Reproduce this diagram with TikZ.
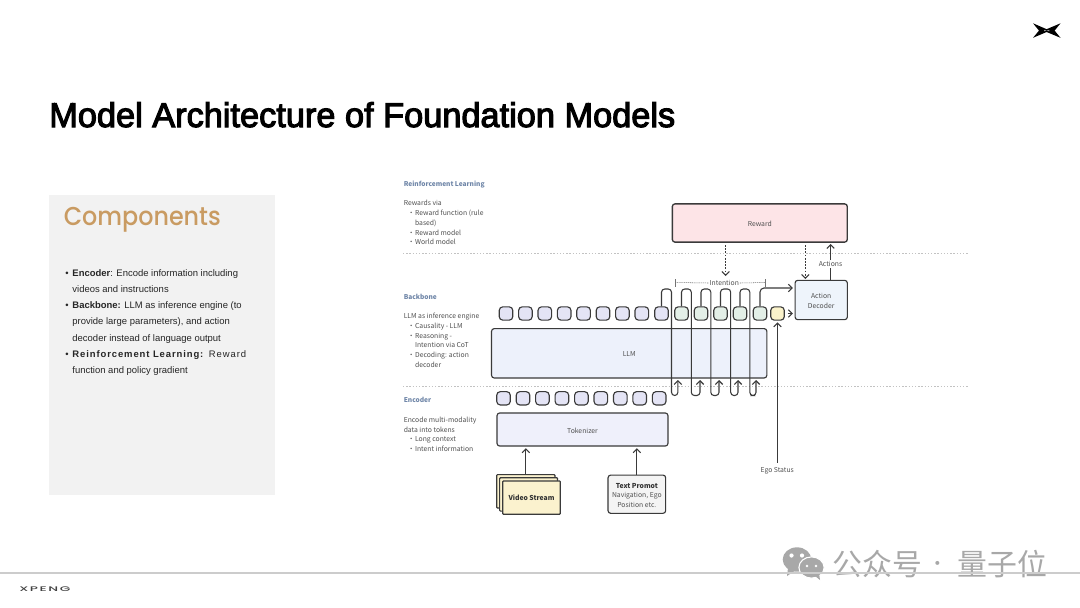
\documentclass[tikz,border=0pt]{standalone}
\usepackage{fontspec}
\usepackage{graphicx}
\usetikzlibrary{arrows.meta,calc}
\setmainfont{Liberation Sans}
\newfontfamily\titlefont{Poppins}[UprightFont=* Medium,BoldFont=* SemiBold]
\newfontfamily\headfont{Liberation Sans}[FakeBold=3.2]
\newfontfamily\dgm{Noto Sans CJK SC}
\newcommand{\bl}{\makebox[8.5pt][l]{\hspace{3pt}•}}
\newcommand{\ind}{\hspace*{8.5pt}}
\newcommand{\lb}{\makebox[5.4pt][l]{•}}
\newcommand{\lind}{\hspace*{5.4pt}}
\newcommand{\dnr}{\rule{0pt}{5.5pt}}
\definecolor{ln}{HTML}{3A3A3A}
\definecolor{txt}{HTML}{505050}
\definecolor{hd}{HTML}{6F86A8}
\definecolor{compc}{HTML}{C99B62}
\tikzset{
  boxn/.style={draw=ln,line width=.85pt,rounded corners=2pt,inner sep=0pt,align=center,text=txt,font=\dgm\fontsize{5.1}{7.3}\selectfont},
  tokp/.style={boxn,rounded corners=2.7pt,fill=tokpc,minimum width=10.2pt,minimum height=10pt},
  tokg/.style={boxn,rounded corners=2.7pt,fill=tokgc,minimum width=10.2pt,minimum height=10pt},
  toky/.style={boxn,rounded corners=2.7pt,fill=tokyc,minimum width=10.2pt,minimum height=10pt},
  conn/.style={draw=ln,line width=.8pt,-{Straight Barb[length=2.8pt,width=5.6pt,line width=.8pt]}},
  plainc/.style={draw=ln,line width=.8pt},
  dotc/.style={conn,dash pattern=on 1.3pt off 1.1pt},
  sep/.style={draw=black!24,line width=.5pt,dash pattern=on 1.1pt off 1.3pt},
  note/.style={anchor=north west,inner sep=0pt,align=left,text=txt,font=\dgm\fontsize{5.1}{7.3}\selectfont},
  head/.style={anchor=west,inner sep=0pt,text=hd,font=\dgm\bfseries\fontsize{4.95}{7.3}\selectfont},
  lab/.style={inner sep=0pt,text=txt,font=\dgm\fontsize{5.1}{7.3}\selectfont},
  body/.style={anchor=north west,inner sep=0pt,align=left,text=black!85,font=\fontsize{7.1}{12.17}\selectfont},
}
\definecolor{tokpc}{HTML}{E4E4F5}
\definecolor{tokgc}{HTML}{E3EFE7}
\definecolor{tokyc}{HTML}{FBF3CB}
\definecolor{rew}{HTML}{FDE4E7}
\definecolor{adc}{HTML}{EEF4FB}
\definecolor{llmc}{HTML}{EDF1FB}
\definecolor{tokc}{HTML}{EFF0FB}
\definecolor{vid}{HTML}{FBF2CE}
\definecolor{tp}{HTML}{F4F4F4}
\definecolor{wm}{HTML}{A8A8A8}
\begin{document}
\begin{tikzpicture}[x=.75pt,y=-.75pt]
\useasboundingbox (0,0) rectangle (1080,607);
\fill[white] (0,0) rectangle (1080,607);
% title
\node[anchor=base west,inner sep=0pt,font=\headfont\fontsize{25.8}{30}\selectfont] (title) at (49,127) {\resizebox{469.5pt}{\height}{Model Architecture of Foundation Models}};
% logo
\fill[black] (1033,23.3) -- (1046.6,29.2) -- (1060.5,23.3) -- (1054.6,30.6) -- (1060.5,37.8) -- (1046.6,32) -- (1033,37.8) -- (1039,30.6) -- cycle;
\fill[black!40] (1044,29.9) -- (1046.6,30.6) -- (1049.4,29.9) -- (1049.4,31.3) -- (1046.6,30.6) -- (1044,31.3) -- cycle;
% panel
\fill[black!5] (49,195) rectangle (275,495);
\node[anchor=base west,inner sep=0pt,text=compc,font=\titlefont\fontsize{19.4}{24}\selectfont] (comp) at (63.5,225) {\resizebox{117.75pt}{\height}{Components}};
\node[body] (bodytxt) at (65,269) {\lb\textbf{Encoder}: Encode information including\\
\lind videos and instructions\\
\lb\textbf{Backbone:} LLM as inference engine (to\\
\lind provide large parameters), and action\\
\lind decoder instead of language output\\
\lb{\addfontfeature{LetterSpace=9.5}\textbf{Reinforcement Learning:} Reward}\\
\lind function and policy gradient};
\node[anchor=west,inner sep=0pt,text=black!75,font=\titlefont\fontsize{5}{6}\selectfont] (xp) at (19,589.3) {\scalebox{2.05}[1]{\addfontfeature{LetterSpace=12}XPENG}};
% separators
\coordinate (s1a) at (403,253.5); \coordinate (s1b) at (968,253.5);
\coordinate (s2a) at (403,386); \coordinate (s2b) at (968,386);
\draw[sep] (s1a) -- (s1b);
\draw[sep] (s2a) -- (s2b);
% left notes
\node[head] (h1) at (403.5,184.7) {Reinforcement Learning};
\node[note] (n1) at (403.5,200.2) {Rewards via\\\bl Reward function (rule\\\ind based)\\\bl Reward model\\\bl World model};
\node[head] (h2) at (403.5,296.5) {Backbone};
\node[note] (n2) at (403.5,313) {LLM as inference engine\\\bl Causality - LLM\\\bl Reasoning -\\\ind Intention via CoT\\\bl Decoding: action\\\ind decoder};
\node[head] (h3) at (403.5,400) {Encoder};
\node[note] (n3) at (403.5,416.8) {Encode multi-modality\\data into tokens\\\bl Long context\\\bl Intent information};
% boxes
\node[boxn,fill=rew,minimum width=131.2pt,minimum height=28.7pt,line width=1pt] (reward) at (759.8,223) {\dnr Reward};
\node[boxn,fill=adc,minimum width=39.2pt,minimum height=29.5pt] (ad) at (821.2,300) {\dnr Action\\Decoder};
\node[boxn,fill=llmc,minimum width=206.5pt,minimum height=37pt] (llm) at (629.2,353.3) {\dnr LLM};
\node[boxn,fill=tokc,minimum width=128.2pt,minimum height=24.8pt] (tok) at (582.5,429.5) {\dnr Tokenizer};
% top tokens
\foreach \i/\cx in {1/506,2/525.4,3/544.8,4/564.2,5/583.6,6/603,7/622.4,8/641.8,9/661.5}
  \node[tokp] (t\i) at (\cx,313.5) {};
\foreach \i/\cx in {10/681.5,11/701,12/720.5,13/740,14/760}
  \node[tokg] (t\i) at (\cx,313.5) {};
\node[toky] (ty) at (777.5,313.5) {};
% encoder tokens
\foreach \i/\cx in {1/503.5,2/523,3/542.4,4/561.9,5/581.4,6/600.8,7/620.3,8/639.7,9/659.2}
  \node[tokp] (e\i) at (\cx,398.3) {};
% inputs
\node[boxn,fill=vid,rounded corners=0.6pt,minimum width=43.7pt,minimum height=25pt] (v1) at (525.85,491.3) {};
\node[boxn,fill=vid,rounded corners=0.6pt,minimum width=43.4pt,minimum height=25pt] (v2) at (528.6,494.4) {};
\node[boxn,fill=vid,rounded corners=0.6pt,minimum width=43.2pt,minimum height=25pt,text=black!80,font=\dgm\bfseries\fontsize{5.1}{7.3}\selectfont] (v3) at (531.5,497.6) {Video Stream};
\node[boxn,fill=tp,minimum width=43.2pt,minimum height=28.7pt] (tp) at (636.85,494.2) {\dnr\textcolor{black!80}{\bfseries Text Promot}\\Navigation, Ego\\Position etc.};
\draw[conn,shorten >=1.2pt] (v1.north) -- (v1.north |- tok.south);
\draw[conn,shorten >=1.2pt] (tp.north) -- (tp.north |- tok.south);
% loops
\foreach \a/\dn/\up in {t9/671.5/677.9,t10/691.3/700,t11/710.8/719,t12/730.7/738,t13/749.8/756}{
  \coordinate (top\a) at (\dn,289);
  \coordinate (end\a) at (\up,380);
  \coordinate (bot\a) at (\dn,395.5);
  \draw[conn,rounded corners=2.4pt] (\a.north) |- (top\a) -- (bot\a) -| (end\a);
}
% to decoder
\coordinate (adin) at (792.8,288);
\draw[conn,rounded corners=3pt] (t14.north) |- (adin);
\coordinate (yin) at (792.8,313.5);
\draw[conn,shorten <=2pt] (ty.east) -- (yin);
% ego
\node[lab] (ego) at (777.2,471) {Ego Status};
\draw[conn,shorten >=1.2pt] ([yshift=3.5pt]ego.north -| ty.south) -- (ty.south);
% reward arrows
\coordinate (ra) at (725.7,245); \coordinate (rb) at (725.7,276);
\draw[dotc] (ra) -- (rb);
\coordinate (rc) at (805.3,245); \coordinate (rd) at (805.3,279);
\draw[dotc] (rc) -- (rd);
% actions
\node[lab,fill=white,inner xsep=1pt,inner ysep=0.6pt] (act) at (830.5,263.8) {Actions};
\coordinate (ae) at (830.5,280.3); \coordinate (af) at (830.5,244);
\draw[plainc] (ae) -- (act.south);
\draw[conn] (act.north) -- (af);
% intention bracket
\node[lab,fill=white,inner xsep=.6pt] (int) at (724.3,283) {Intention};
\coordinate (il) at (675,282.5); \coordinate (ir) at (765.5,282.5);
\draw[draw=black!55,line width=.4pt,dash pattern=on 1pt off .6pt] (il) -- (int.west);
\draw[draw=black!55,line width=.4pt,dash pattern=on 1pt off .6pt] (int.east) -- (ir);
\draw[draw=black!55,line width=.45pt] ([yshift=-3pt]il) -- ([yshift=3pt]il);
\draw[draw=black!55,line width=.45pt] ([yshift=-3pt]ir) -- ([yshift=3pt]ir);
% watermark
\fill[wm] (797,559.5) ellipse [x radius=14.3,y radius=12.2];
\fill[wm] (788,568) -- (787,576) -- (796,570) -- cycle;
\filldraw[fill=wm,draw=white,line width=.8pt] (811.5,567.5) ellipse [x radius=12.6,y radius=10.6];
\fill[wm] (815,576) -- (820,580) -- (819,573) -- cycle;
\fill[white] (791.5,555.5) circle (2.1) (802,555.5) circle (2.1) (807,566) circle (1.4) (816,566) circle (1.4);
\node[anchor=base west,inner sep=0pt,text=wm,font=\dgm\fontsize{22.4}{26}\selectfont] (wm1) at (832.5,575) {公众号};
\node[anchor=center,inner sep=0pt,text=wm,font=\dgm\fontsize{14}{26}\selectfont] (wm2) at (938,566) {·};
\node[anchor=base west,inner sep=0pt,text=wm,font=\dgm\fontsize{22.4}{26}\selectfont] (wm3) at (957,575) {量子位};
% footer
\coordinate (fa) at (0,573); \coordinate (fb) at (1080,573);
\draw[draw=black!20,line width=1.1pt] (fa) -- (fb);
\end{tikzpicture}
\end{document}
